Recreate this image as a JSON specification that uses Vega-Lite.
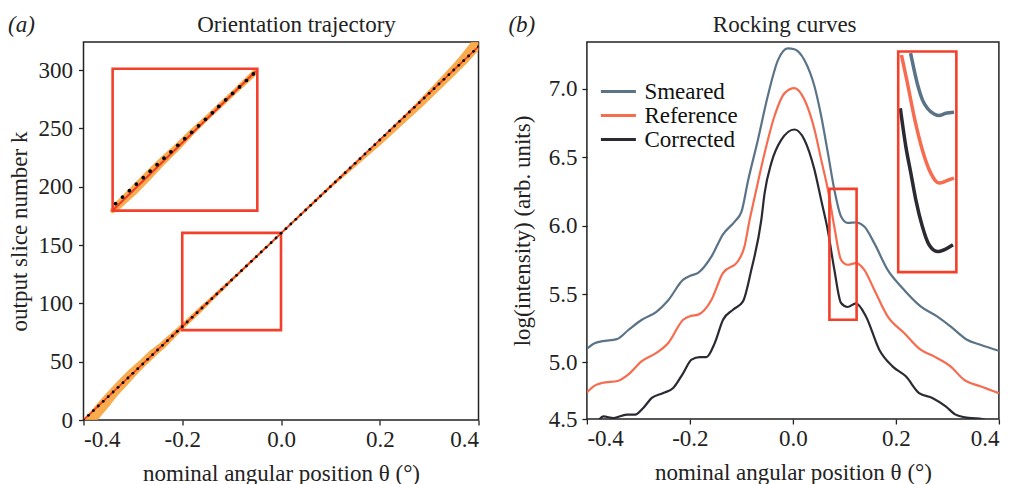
{
  "$schema": "https://vega.github.io/schema/vega-lite/v6.json",
  "padding": {"left": 6.5, "top": 12, "right": 0, "bottom": 0},
  "background": "white",
  "spacing": 26.4,
  "config": {
    "font": "Liberation Serif",
    "view": {"stroke": "#222", "strokeWidth": 1.5},
    "axis": {
      "labelFont": "Liberation Serif", "titleFont": "Liberation Serif",
      "labelFontSize": 23, "titleFontSize": 23, "labelColor": "#222", "titleColor": "#222",
      "titleFontWeight": "normal", "domain": false, "grid": false,
      "tickColor": "#222", "tickSize": 5, "tickWidth": 1.3, "labelPadding": 5
    }
  },
  "resolve": {"scale": {"color": "independent"}, "legend": {"color": "independent"}},
  "datasets": {
    "bandMain": [
      {"theta": -0.40, "k": -6, "w": 11}, {"theta": -0.38, "k": 3, "w": 11}, {"theta": -0.36, "k": 13, "w": 11},
      {"theta": -0.34, "k": 23, "w": 10}, {"theta": -0.32, "k": 32, "w": 10}, {"theta": -0.30, "k": 41, "w": 9},
      {"theta": -0.28, "k": 49, "w": 8}, {"theta": -0.26, "k": 57, "w": 8}, {"theta": -0.24, "k": 64, "w": 7},
      {"theta": -0.22, "k": 72, "w": 6}, {"theta": -0.20, "k": 80, "w": 5}, {"theta": -0.18, "k": 88, "w": 5},
      {"theta": -0.16, "k": 96, "w": 5}, {"theta": -0.14, "k": 104, "w": 4}, {"theta": -0.12, "k": 112, "w": 4},
      {"theta": -0.10, "k": 120, "w": 3}, {"theta": -0.05, "k": 140, "w": 2.5}, {"theta": 0.00, "k": 160, "w": 2},
      {"theta": 0.05, "k": 180, "w": 2.5}, {"theta": 0.10, "k": 200, "w": 3}, {"theta": 0.15, "k": 219, "w": 4},
      {"theta": 0.20, "k": 238, "w": 5}, {"theta": 0.24, "k": 254, "w": 6}, {"theta": 0.28, "k": 270, "w": 7},
      {"theta": 0.32, "k": 287, "w": 8}, {"theta": 0.35, "k": 300, "w": 9}, {"theta": 0.37, "k": 309, "w": 10},
      {"theta": 0.39, "k": 319, "w": 11}, {"theta": 0.41, "k": 329, "w": 11}
    ],
    "bandInset": [
      {"theta": -0.341, "k": 179.5, "w": 5}, {"theta": -0.33, "k": 184, "w": 8}, {"theta": -0.30, "k": 196, "w": 9},
      {"theta": -0.27, "k": 209, "w": 9}, {"theta": -0.24, "k": 222, "w": 8}, {"theta": -0.21, "k": 234, "w": 7},
      {"theta": -0.18, "k": 247, "w": 6}, {"theta": -0.15, "k": 259, "w": 5}, {"theta": -0.12, "k": 271, "w": 5},
      {"theta": -0.09, "k": 283, "w": 5}, {"theta": -0.06, "k": 295, "w": 6}, {"theta": -0.051, "k": 299, "w": 5}
    ],
    "lineMain": [{"theta": -0.4, "k": 0}, {"theta": 0.4, "k": 320}],
    "lineInset": [{"theta": -0.341, "k": 179.5}, {"theta": -0.051, "k": 299}],
    "boxesA": [
      {"t1": -0.2, "t2": 0.0, "k1": 77, "k2": 160.4},
      {"t1": -0.341, "t2": -0.048, "k1": 179.5, "k2": 301.1}
    ],
    "dotsMain": [
      {"theta": -0.40, "k": 0}, {"theta": -0.39, "k": 4}, {"theta": -0.38, "k": 8}, {"theta": -0.37, "k": 12},
      {"theta": -0.36, "k": 16}, {"theta": -0.35, "k": 20}, {"theta": -0.34, "k": 24}, {"theta": -0.33, "k": 28},
      {"theta": -0.32, "k": 32}, {"theta": -0.31, "k": 36}, {"theta": -0.30, "k": 40}, {"theta": -0.29, "k": 44},
      {"theta": -0.28, "k": 48}, {"theta": -0.27, "k": 52}, {"theta": -0.26, "k": 56}, {"theta": -0.25, "k": 60},
      {"theta": -0.24, "k": 64}, {"theta": -0.23, "k": 68}, {"theta": -0.22, "k": 72}, {"theta": -0.21, "k": 76},
      {"theta": -0.20, "k": 80}, {"theta": -0.19, "k": 84}, {"theta": -0.18, "k": 88}, {"theta": -0.17, "k": 92},
      {"theta": -0.16, "k": 96}, {"theta": -0.15, "k": 100}, {"theta": -0.14, "k": 104}, {"theta": -0.13, "k": 108},
      {"theta": -0.12, "k": 112}, {"theta": -0.11, "k": 116}, {"theta": -0.10, "k": 120}, {"theta": -0.09, "k": 124},
      {"theta": -0.08, "k": 128}, {"theta": -0.07, "k": 132}, {"theta": -0.06, "k": 136}, {"theta": -0.05, "k": 140},
      {"theta": -0.04, "k": 144}, {"theta": -0.03, "k": 148}, {"theta": -0.02, "k": 152}, {"theta": -0.01, "k": 156},
      {"theta": 0.00, "k": 160}, {"theta": 0.01, "k": 164}, {"theta": 0.02, "k": 168}, {"theta": 0.03, "k": 172},
      {"theta": 0.04, "k": 176}, {"theta": 0.05, "k": 180}, {"theta": 0.06, "k": 184}, {"theta": 0.07, "k": 188},
      {"theta": 0.08, "k": 192}, {"theta": 0.09, "k": 196}, {"theta": 0.10, "k": 200}, {"theta": 0.11, "k": 204},
      {"theta": 0.12, "k": 208}, {"theta": 0.13, "k": 212}, {"theta": 0.14, "k": 216}, {"theta": 0.15, "k": 220},
      {"theta": 0.16, "k": 224}, {"theta": 0.17, "k": 228}, {"theta": 0.18, "k": 232}, {"theta": 0.19, "k": 236},
      {"theta": 0.20, "k": 240}, {"theta": 0.21, "k": 244}, {"theta": 0.22, "k": 248}, {"theta": 0.23, "k": 252},
      {"theta": 0.24, "k": 256}, {"theta": 0.25, "k": 260}, {"theta": 0.26, "k": 264}, {"theta": 0.27, "k": 268},
      {"theta": 0.28, "k": 272}, {"theta": 0.29, "k": 276}, {"theta": 0.30, "k": 280}, {"theta": 0.31, "k": 284},
      {"theta": 0.32, "k": 288}, {"theta": 0.33, "k": 292}, {"theta": 0.34, "k": 296}, {"theta": 0.35, "k": 300},
      {"theta": 0.36, "k": 304}, {"theta": 0.37, "k": 308}, {"theta": 0.38, "k": 312}, {"theta": 0.39, "k": 316},
      {"theta": 0.40, "k": 320}
    ],
    "dotsInset": [
      {"theta": -0.335, "k": 185.5}, {"theta": -0.321, "k": 191.1}, {"theta": -0.307, "k": 196.6},
      {"theta": -0.293, "k": 202.2}, {"theta": -0.279, "k": 207.7}, {"theta": -0.265, "k": 213.3},
      {"theta": -0.251, "k": 218.8}, {"theta": -0.237, "k": 224.4}, {"theta": -0.223, "k": 229.9},
      {"theta": -0.209, "k": 235.5}, {"theta": -0.195, "k": 241.1}, {"theta": -0.181, "k": 246.6},
      {"theta": -0.167, "k": 252.2}, {"theta": -0.153, "k": 257.7}, {"theta": -0.139, "k": 263.3},
      {"theta": -0.126, "k": 268.8}, {"theta": -0.112, "k": 274.4}, {"theta": -0.098, "k": 279.9},
      {"theta": -0.084, "k": 285.5}, {"theta": -0.070, "k": 291.0}, {"theta": -0.056, "k": 296.6}
    ],
    "curves": [
      {"series": "Smeared", "theta": -0.4, "v": 5.10}, {"series": "Smeared", "theta": -0.385, "v": 5.14},
      {"series": "Smeared", "theta": -0.37, "v": 5.155}, {"series": "Smeared", "theta": -0.342, "v": 5.17},
      {"series": "Smeared", "theta": -0.32, "v": 5.235}, {"series": "Smeared", "theta": -0.294, "v": 5.31},
      {"series": "Smeared", "theta": -0.265, "v": 5.37}, {"series": "Smeared", "theta": -0.242, "v": 5.455},
      {"series": "Smeared", "theta": -0.213, "v": 5.605}, {"series": "Smeared", "theta": -0.198, "v": 5.635},
      {"series": "Smeared", "theta": -0.184, "v": 5.655}, {"series": "Smeared", "theta": -0.158, "v": 5.775},
      {"series": "Smeared", "theta": -0.136, "v": 5.935}, {"series": "Smeared", "theta": -0.113, "v": 6.03},
      {"series": "Smeared", "theta": -0.1, "v": 6.10}, {"series": "Smeared", "theta": -0.087, "v": 6.33},
      {"series": "Smeared", "theta": -0.068, "v": 6.627}, {"series": "Smeared", "theta": -0.049, "v": 6.944},
      {"series": "Smeared", "theta": -0.029, "v": 7.21}, {"series": "Smeared", "theta": -0.01, "v": 7.297},
      {"series": "Smeared", "theta": 0.003, "v": 7.29}, {"series": "Smeared", "theta": 0.0225, "v": 7.21},
      {"series": "Smeared", "theta": 0.042, "v": 7.017}, {"series": "Smeared", "theta": 0.055, "v": 6.80},
      {"series": "Smeared", "theta": 0.068, "v": 6.53}, {"series": "Smeared", "theta": 0.0805, "v": 6.262},
      {"series": "Smeared", "theta": 0.0935, "v": 6.067}, {"series": "Smeared", "theta": 0.1063, "v": 6.02},
      {"series": "Smeared", "theta": 0.1225, "v": 6.023}, {"series": "Smeared", "theta": 0.1386, "v": 5.994},
      {"series": "Smeared", "theta": 0.158, "v": 5.872}, {"series": "Smeared", "theta": 0.184, "v": 5.677},
      {"series": "Smeared", "theta": 0.21, "v": 5.555}, {"series": "Smeared", "theta": 0.248, "v": 5.41},
      {"series": "Smeared", "theta": 0.28, "v": 5.336}, {"series": "Smeared", "theta": 0.306, "v": 5.263},
      {"series": "Smeared", "theta": 0.338, "v": 5.166}, {"series": "Smeared", "theta": 0.364, "v": 5.129},
      {"series": "Smeared", "theta": 0.4, "v": 5.085},

      {"series": "Reference", "theta": -0.4, "v": 4.78}, {"series": "Reference", "theta": -0.385, "v": 4.83},
      {"series": "Reference", "theta": -0.371, "v": 4.849}, {"series": "Reference", "theta": -0.339, "v": 4.866},
      {"series": "Reference", "theta": -0.32, "v": 4.91}, {"series": "Reference", "theta": -0.294, "v": 5.007},
      {"series": "Reference", "theta": -0.265, "v": 5.069}, {"series": "Reference", "theta": -0.242, "v": 5.142},
      {"series": "Reference", "theta": -0.213, "v": 5.312}, {"series": "Reference", "theta": -0.198, "v": 5.34},
      {"series": "Reference", "theta": -0.184, "v": 5.349}, {"series": "Reference", "theta": -0.158, "v": 5.458},
      {"series": "Reference", "theta": -0.136, "v": 5.653}, {"series": "Reference", "theta": -0.107, "v": 5.738},
      {"series": "Reference", "theta": -0.094, "v": 5.848}, {"series": "Reference", "theta": -0.084, "v": 6.043},
      {"series": "Reference", "theta": -0.074, "v": 6.213}, {"series": "Reference", "theta": -0.055, "v": 6.53},
      {"series": "Reference", "theta": -0.036, "v": 6.798}, {"series": "Reference", "theta": -0.016, "v": 6.969},
      {"series": "Reference", "theta": 0.003, "v": 7.005}, {"series": "Reference", "theta": 0.0225, "v": 6.92},
      {"series": "Reference", "theta": 0.042, "v": 6.701}, {"series": "Reference", "theta": 0.055, "v": 6.481},
      {"series": "Reference", "theta": 0.068, "v": 6.262}, {"series": "Reference", "theta": 0.0805, "v": 5.99},
      {"series": "Reference", "theta": 0.0935, "v": 5.75}, {"series": "Reference", "theta": 0.1063, "v": 5.714},
      {"series": "Reference", "theta": 0.1225, "v": 5.726}, {"series": "Reference", "theta": 0.1386, "v": 5.677},
      {"series": "Reference", "theta": 0.158, "v": 5.531}, {"series": "Reference", "theta": 0.184, "v": 5.336},
      {"series": "Reference", "theta": 0.216, "v": 5.215}, {"series": "Reference", "theta": 0.248, "v": 5.093},
      {"series": "Reference", "theta": 0.274, "v": 5.044}, {"series": "Reference", "theta": 0.306, "v": 4.971},
      {"series": "Reference", "theta": 0.332, "v": 4.874}, {"series": "Reference", "theta": 0.364, "v": 4.825},
      {"series": "Reference", "theta": 0.4, "v": 4.775},

      {"series": "Corrected", "theta": -0.4, "v": 4.52}, {"series": "Corrected", "theta": -0.38, "v": 4.57},
      {"series": "Corrected", "theta": -0.368, "v": 4.605}, {"series": "Corrected", "theta": -0.3485, "v": 4.593},
      {"series": "Corrected", "theta": -0.3226, "v": 4.618}, {"series": "Corrected", "theta": -0.3065, "v": 4.618},
      {"series": "Corrected", "theta": -0.2905, "v": 4.667}, {"series": "Corrected", "theta": -0.274, "v": 4.74},
      {"series": "Corrected", "theta": -0.2517, "v": 4.776}, {"series": "Corrected", "theta": -0.2324, "v": 4.813},
      {"series": "Corrected", "theta": -0.213, "v": 4.922}, {"series": "Corrected", "theta": -0.1968, "v": 5.02},
      {"series": "Corrected", "theta": -0.1807, "v": 5.039}, {"series": "Corrected", "theta": -0.1678, "v": 5.039},
      {"series": "Corrected", "theta": -0.1517, "v": 5.142}, {"series": "Corrected", "theta": -0.1356, "v": 5.312},
      {"series": "Corrected", "theta": -0.1163, "v": 5.385}, {"series": "Corrected", "theta": -0.0969, "v": 5.446},
      {"series": "Corrected", "theta": -0.0807, "v": 5.677}, {"series": "Corrected", "theta": -0.0613, "v": 6.043},
      {"series": "Corrected", "theta": -0.0549, "v": 6.238}, {"series": "Corrected", "theta": -0.042, "v": 6.457},
      {"series": "Corrected", "theta": -0.0226, "v": 6.627}, {"series": "Corrected", "theta": 0.003, "v": 6.703},
      {"series": "Corrected", "theta": 0.0225, "v": 6.627}, {"series": "Corrected", "theta": 0.0419, "v": 6.408},
      {"series": "Corrected", "theta": 0.0548, "v": 6.189}, {"series": "Corrected", "theta": 0.0676, "v": 5.97},
      {"series": "Corrected", "theta": 0.0805, "v": 5.677}, {"series": "Corrected", "theta": 0.0935, "v": 5.434},
      {"series": "Corrected", "theta": 0.1063, "v": 5.405}, {"series": "Corrected", "theta": 0.1225, "v": 5.432},
      {"series": "Corrected", "theta": 0.1419, "v": 5.336}, {"series": "Corrected", "theta": 0.1677, "v": 5.093},
      {"series": "Corrected", "theta": 0.1934, "v": 4.971}, {"series": "Corrected", "theta": 0.2193, "v": 4.898},
      {"series": "Corrected", "theta": 0.245, "v": 4.776}, {"series": "Corrected", "theta": 0.2708, "v": 4.74},
      {"series": "Corrected", "theta": 0.2967, "v": 4.678}, {"series": "Corrected", "theta": 0.316, "v": 4.618},
      {"series": "Corrected", "theta": 0.3418, "v": 4.594}, {"series": "Corrected", "theta": 0.3676, "v": 4.586},
      {"series": "Corrected", "theta": 0.38, "v": 4.57}, {"series": "Corrected", "theta": 0.4, "v": 4.53}
    ],
    "insetCurves": [
      {"series": "Smeared", "theta": 0.2285, "v": 7.261}, {"series": "Smeared", "theta": 0.2354, "v": 7.139},
      {"series": "Smeared", "theta": 0.2431, "v": 7.017}, {"series": "Smeared", "theta": 0.2515, "v": 6.92},
      {"series": "Smeared", "theta": 0.2611, "v": 6.859}, {"series": "Smeared", "theta": 0.2741, "v": 6.817},
      {"series": "Smeared", "theta": 0.2838, "v": 6.805}, {"series": "Smeared", "theta": 0.2967, "v": 6.822},
      {"series": "Smeared", "theta": 0.3128, "v": 6.83},
      {"series": "Reference", "theta": 0.2108, "v": 7.248}, {"series": "Reference", "theta": 0.2224, "v": 7.042},
      {"series": "Reference", "theta": 0.2354, "v": 6.798}, {"series": "Reference", "theta": 0.2514, "v": 6.554},
      {"series": "Reference", "theta": 0.2677, "v": 6.384}, {"series": "Reference", "theta": 0.2838, "v": 6.311},
      {"series": "Reference", "theta": 0.2998, "v": 6.33}, {"series": "Reference", "theta": 0.3128, "v": 6.347},
      {"series": "Corrected", "theta": 0.2085, "v": 6.859}, {"series": "Corrected", "theta": 0.2193, "v": 6.578},
      {"series": "Corrected", "theta": 0.229, "v": 6.384}, {"series": "Corrected", "theta": 0.2387, "v": 6.189},
      {"series": "Corrected", "theta": 0.2514, "v": 5.994}, {"series": "Corrected", "theta": 0.2644, "v": 5.86},
      {"series": "Corrected", "theta": 0.2805, "v": 5.811}, {"series": "Corrected", "theta": 0.2967, "v": 5.829},
      {"series": "Corrected", "theta": 0.3108, "v": 5.86}
    ],
    "boxesB": [
      {"t1": 0.0709, "t2": 0.1237, "v1": 5.312, "v2": 6.269},
      {"t1": 0.2045, "t2": 0.3174, "v1": 5.66, "v2": 7.273}
    ]
  },
  "hconcat": [
    {
      "width": 395,
      "height": 378,
      "resolve": {"axis": {"x": "independent", "y": "independent"}},
      "layer": [
        {
          "data": {"name": "bandMain"},
          "mark": {"type": "trail", "color": "#f8a33a", "opacity": 0.9, "clip": true},
          "encoding": {
            "x": {"field": "theta", "type": "quantitative",
                  "scale": {"domain": [-0.4, 0.4], "nice": false, "zero": false},
                  "axis": {"orient": "bottom", "values": [-0.4, -0.2, 0, 0.2, 0.4], "labelPadding": 3,
                           "labelExpr": "(datum.value < -0.001 ? '-' : '') + format(abs(datum.value), '.1f')",
                           "title": "nominal angular position θ (°)", "titlePadding": 11}},
            "y": {"field": "k", "type": "quantitative",
                  "scale": {"domain": [0, 324], "nice": false},
                  "axis": {"orient": "left", "values": [0, 50, 100, 150, 200, 250, 300], "labelPadding": 6,
                           "title": "output slice number k", "titlePadding": 7}},
            "size": {"field": "w", "type": "quantitative", "scale": null, "legend": null}
          }
        },
        {
          "data": {"name": "bandInset"},
          "mark": {"type": "trail", "color": "#f8a33a", "opacity": 0.9},
          "encoding": {
            "x": {"field": "theta", "type": "quantitative", "axis": null},
            "y": {"field": "k", "type": "quantitative", "axis": null},
            "size": {"field": "w", "type": "quantitative", "scale": null, "legend": null}
          }
        },
        {
          "data": {"name": "boxesA"},
          "mark": {"type": "rect", "fill": null, "fillOpacity": 0, "stroke": "#f3402b", "strokeWidth": 2.6},
          "encoding": {
            "x": {"field": "t1", "type": "quantitative",
                  "axis": {"orient": "top", "title": "(a)", "labels": false, "ticks": false, "domain": false,
                           "titleX": -76, "titleY": -10.6, "titleAlign": "left", "titleAnchor": "start",
                           "titleBaseline": "alphabetic", "titleFontStyle": "italic", "titleFontSize": 23}},
            "x2": {"field": "t2"},
            "y": {"field": "k1", "type": "quantitative", "axis": null},
            "y2": {"field": "k2"}
          }
        },
        {
          "data": {"name": "lineMain"},
          "mark": {"type": "line", "color": "#ee3a24", "strokeWidth": 1.6, "clip": true},
          "encoding": {
            "x": {"field": "theta", "type": "quantitative",
                  "axis": {"orient": "top", "title": "Orientation trajectory", "labels": false, "ticks": false, "domain": false,
                           "titleX": 212.5, "titleY": -10.6, "titleAlign": "center",
                           "titleBaseline": "alphabetic", "titleFontSize": 23}},
            "y": {"field": "k", "type": "quantitative", "axis": null}
          }
        },
        {
          "data": {"name": "lineInset"},
          "mark": {"type": "line", "color": "#ee3a24", "strokeWidth": 2},
          "encoding": {
            "x": {"field": "theta", "type": "quantitative", "axis": null},
            "y": {"field": "k", "type": "quantitative", "axis": null}
          }
        },
        {
          "data": {"name": "dotsMain"},
          "mark": {"type": "circle", "color": "#000", "size": 8, "opacity": 1, "clip": true},
          "encoding": {
            "x": {"field": "theta", "type": "quantitative", "axis": null},
            "y": {"field": "k", "type": "quantitative", "axis": null}
          }
        },
        {
          "data": {"name": "dotsInset"},
          "mark": {"type": "circle", "color": "#000", "size": 14, "opacity": 1},
          "encoding": {
            "x": {"field": "theta", "type": "quantitative", "axis": null},
            "y": {"field": "k", "type": "quantitative", "axis": null}
          }
        }
      ]
    },
    {
      "width": 412,
      "height": 377,
      "resolve": {"axis": {"x": "independent", "y": "independent"}},
      "layer": [
        {
          "data": {"name": "curves"},
          "mark": {"type": "line", "strokeWidth": 2.2, "interpolate": "monotone", "clip": true},
          "encoding": {
            "x": {"field": "theta", "type": "quantitative",
                  "scale": {"domain": [-0.4, 0.4], "nice": false, "zero": false},
                  "axis": {"orient": "bottom", "values": [-0.4, -0.2, 0, 0.2, 0.4], "labelPadding": 3,
                           "labelExpr": "(datum.value < -0.001 ? '-' : '') + format(abs(datum.value), '.1f')",
                           "title": "nominal angular position θ (°)", "titlePadding": 11}},
            "y": {"field": "v", "type": "quantitative",
                  "scale": {"domain": [4.586, 7.343], "nice": false, "zero": false},
                  "axis": {"orient": "left", "values": [4.586, 5, 5.5, 6, 6.5, 7], "labelPadding": 5,
                           "labelExpr": "datum.value < 4.7 ? '4.5' : format(datum.value, '.1f')",
                           "title": "log(intensity) (arb. units)", "titlePadding": 13.5}},
            "color": {"field": "series", "type": "nominal",
                      "scale": {"domain": ["Smeared", "Reference", "Corrected"], "range": ["#5b7387", "#f76b4f", "#2a2a33"]},
                      "legend": {"orient": "none", "legendX": 20, "legendY": 38, "title": null,
                                 "symbolType": "M-1.75,0L1.75,0", "symbolSize": 400, "symbolStrokeWidth": 3,
                                 "labelFont": "Liberation Serif", "labelFontSize": 23, "labelColor": "#111",
                                 "labelOffset": 14.5, "rowPadding": 0, "padding": 0}}
          }
        },
        {
          "data": {"name": "insetCurves"},
          "mark": {"type": "line", "strokeWidth": 3.5, "interpolate": "monotone"},
          "encoding": {
            "x": {"field": "theta", "type": "quantitative", "axis": null},
            "y": {"field": "v", "type": "quantitative", "axis": null},
            "color": {"field": "series", "type": "nominal"}
          }
        },
        {
          "data": {"name": "boxesB"},
          "mark": {"type": "rect", "fill": null, "fillOpacity": 0, "stroke": "#f3402b", "strokeWidth": 2.6},
          "encoding": {
            "x": {"field": "t1", "type": "quantitative",
                  "axis": {"orient": "top", "title": "(b)", "labels": false, "ticks": false, "domain": false,
                           "titleX": -79, "titleY": -10.6, "titleAlign": "left", "titleAnchor": "start",
                           "titleBaseline": "alphabetic", "titleFontStyle": "italic", "titleFontSize": 23}},
            "x2": {"field": "t2"},
            "y": {"field": "v1", "type": "quantitative", "axis": null},
            "y2": {"field": "v2"}
          }
        },
        {
          "data": {"name": "boxesB"},
          "mark": {"type": "rect", "fill": null, "fillOpacity": 0, "strokeOpacity": 0},
          "encoding": {
            "x": {"field": "t1", "type": "quantitative",
                  "axis": {"orient": "top", "title": "Rocking curves", "labels": false, "ticks": false, "domain": false,
                           "titleX": 197.3, "titleY": -10.6, "titleAlign": "center",
                           "titleBaseline": "alphabetic", "titleFontSize": 23}},
            "x2": {"field": "t2"},
            "y": {"field": "v1", "type": "quantitative", "axis": null},
            "y2": {"field": "v2"}
          }
        }
      ]
    }
  ]
}
